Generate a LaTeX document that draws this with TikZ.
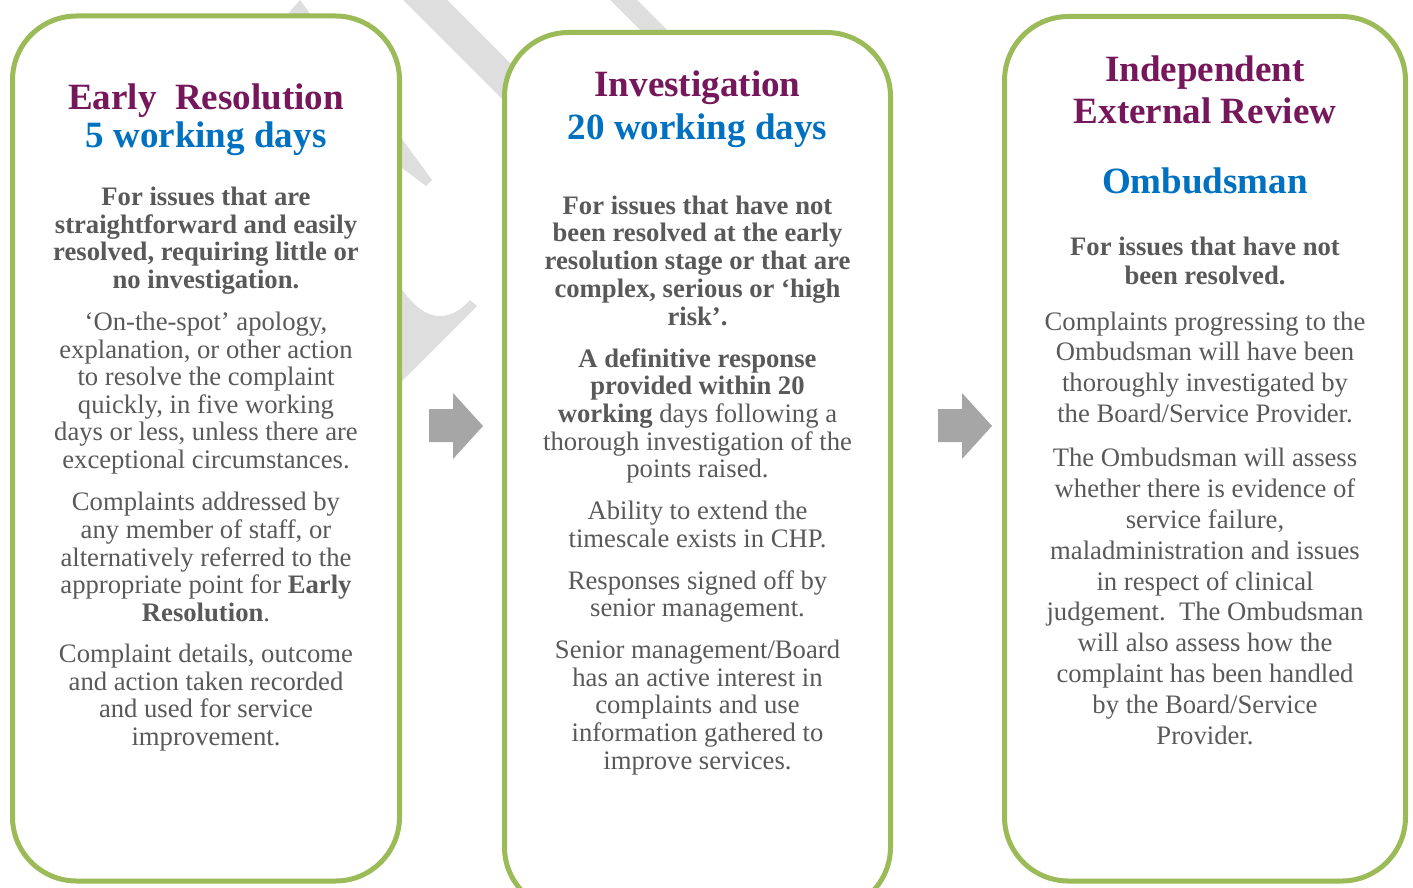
\documentclass[tikz,border=0pt]{standalone}
\usepackage{fontspec}
\setmainfont{Liberation Serif}
\usepackage{tikz}
\usetikzlibrary{positioning}
\definecolor{stagegreen}{HTML}{9BBB59}
\definecolor{titlepurple}{HTML}{76175B}
\definecolor{titleblue}{HTML}{0070C0}
\definecolor{bodygrey}{HTML}{595959}
\definecolor{arrowgrey}{HTML}{A6A6A6}
\definecolor{wmarkgrey}{HTML}{DEDEDE}

\begin{document}
\begin{tikzpicture}[x=0.75pt,y=-0.75pt]
 \tikzset{stage/.style={draw=stagegreen,line width=3.75pt,rounded corners=48pt,fill=white,inner sep=0pt},
  body/.style={text=bodygrey,align=center,inner sep=0pt,font=\fontsize{20}{20.7}\selectfont},
  head/.style={align=center,inner sep=0pt,font=\bfseries\fontsize{27.8}{28.1}\selectfont},
  wmark/.style={fill=wmarkgrey},
  blockarrow/.style={fill=arrowgrey}}
 \useasboundingbox (0,0) rectangle (1413,888);

 % watermark behind the stages
 \fill[wmark] (300,0) -- (432,180) -- (426,186) -- (402,168) -- (287,15) -- cycle;
 \fill[wmark] (403,0) -- (447,0) -- (560,113) -- (516,113) -- cycle;
 \fill[wmark] (610,0) -- (637,0) -- (680,43) -- (653,43) -- cycle;
 \fill[wmark] (390,280) -- (402,290) .. controls (415,306) and (425,316) .. (440,316)
   .. controls (452,316) and (462,309) .. (470,300) -- (477,306) -- (390,393) -- cycle;

 \node[stage,minimum width=290.25pt,minimum height=648.75pt] (A) at (206,448.5) {};
 \node[stage,minimum width=289.5pt,minimum height=658.9pt] (B) at (697.5,471.75) {};
 \node[stage,minimum width=300.75pt,minimum height=648.4pt] (C) at (1205,448.75) {};

 \fill[blockarrow] (429,409) -- (453,409) -- (453,393) -- (483,426) -- (453,459) -- (453,442) -- (429,442) -- cycle;
 \fill[blockarrow] (938,409) -- (962,409) -- (962,393) -- (992,426) -- (962,459) -- (962,442) -- (938,442) -- cycle;

 \node[head,text=titlepurple] (A0) at (206,101) {Early~~Resolution};
 \node[head,text=titleblue] (A1) at (206,139) {5 working days};
 \node[body,font=\bfseries\fontsize{20}{20.7}\selectfont] (A2) at (206,240.5)
  {For issues that are\\straightforward and easily\\resolved, requiring little or\\no investigation.};
 \node[body] (A3) at (206,393) {`On-the-spot' apology,\\explanation, or other action\\to resolve the complaint\\quickly, in five working\\days or less, unless there are\\exceptional circumstances.};
 \node[body] (A4) at (206,557) {Complaints addressed by\\any member of staff, or\\alternatively referred to the\\appropriate point for \textbf{Early}\\\textbf{Resolution}.};
 \node[body] (A5) at (206,697.5) {Complaint details, outcome\\and action taken recorded\\and used for service\\improvement.};

 \node[head,text=titlepurple] (B0) at (697.5,88) {Investigation};
 \node[head,text=titleblue] (B1) at (697.5,131) {20 working days};
 \node[body,font=\bfseries\fontsize{20}{20.8}\selectfont] (B2) at (697.5,260.5)
  {For issues that have not\\been resolved at the early\\resolution stage or that are\\complex, serious or `high\\risk'.};
 \node[body] (B3) at (697.5,416) {\textbf{A definitive response}\\\textbf{provided within 20}\\\textbf{working} days following a\\thorough investigation of the\\points raised.};
 \node[body] (B4) at (697.5,524.5) {Ability to extend the\\timescale exists in CHP.};
 \node[body] (B5) at (697.5,596.5) {Responses signed off by\\senior management.};
 \node[body] (B6) at (697.5,707.5) {Senior management/Board\\has an active interest in\\complaints and use\\information gathered to\\improve services.};

 \node[head,text=titlepurple,font=\bfseries\fontsize{27.8}{31.5}\selectfont] (C0) at (1205,90) {Independent\\External Review};
 \node[head,text=titleblue] (C1) at (1205,181) {Ombudsman};
 \node[body,font=\bfseries\fontsize{20}{21.75}\selectfont] (C2) at (1205,260.5) {For issues that have not\\been resolved.};
 \node[body,font=\fontsize{20}{23}\selectfont] (C3) at (1205,367) {Complaints progressing to the\\Ombudsman will have been\\thoroughly investigated by\\the Board/Service Provider.};
 \node[body,font=\fontsize{20}{23.1}\selectfont] (C4) at (1205,596.5) {The Ombudsman will assess\\whether there is evidence of\\service failure,\\maladministration and issues\\in respect of clinical\\judgement.~~The Ombudsman\\will also assess how the\\complaint has been handled\\by the Board/Service\\Provider.};
\end{tikzpicture}
\end{document}
